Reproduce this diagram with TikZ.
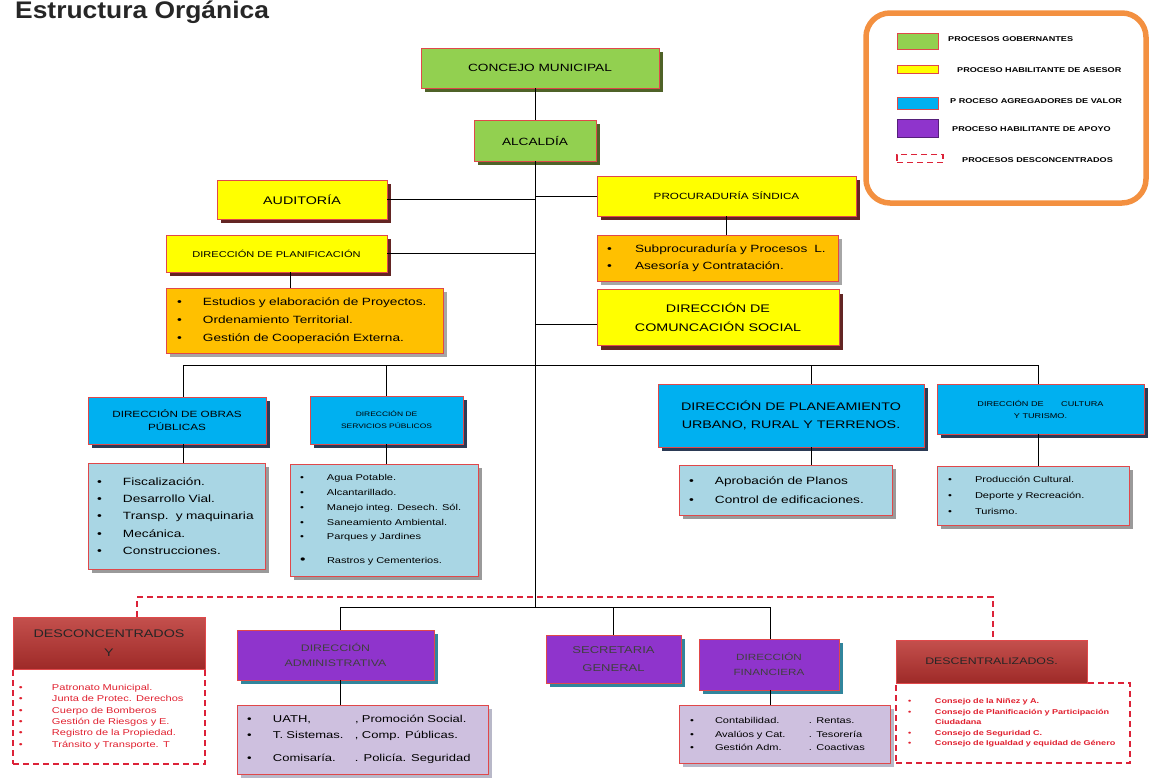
\documentclass[tikz,border=0pt]{standalone}
\usepackage{fontspec}
\setmainfont{Liberation Sans}[FakeStretch=1.3]
\newfontfamily\titlefont{Liberation Sans}[FakeStretch=1.1]
\usetikzlibrary{shadows}
\definecolor{gfill}{HTML}{92D050}
\definecolor{gshad}{HTML}{4F6228}
\definecolor{yfill}{HTML}{FFFF00}
\definecolor{yshad}{HTML}{632523}
\definecolor{ofill}{HTML}{FFC000}
\definecolor{oshad}{HTML}{A6A6A6}
\definecolor{bfill}{HTML}{00B0F0}
\definecolor{bshad}{HTML}{2B3A55}
\definecolor{lbfill}{HTML}{A9D6E4}
\definecolor{lbshad}{HTML}{9A9A9A}
\definecolor{pfill}{HTML}{8F34CC}
\definecolor{pshad}{HTML}{31859C}
\definecolor{lpfill}{HTML}{CEC0DF}
\definecolor{lpshad}{HTML}{B8B8C8}
\definecolor{bordred}{HTML}{E0484A}
\definecolor{dashred}{HTML}{DC2238}
\definecolor{txtred}{HTML}{E0202F}
\definecolor{legor}{HTML}{F39040}
\definecolor{rtop}{HTML}{C4504D}
\definecolor{rmid}{HTML}{DE8F8D}
\definecolor{rbot}{HTML}{9E2A28}
\definecolor{titlegray}{HTML}{262626}
\newcommand{\bitem}[2][26pt]{\mbox{\makebox[#1][l]{\textbullet}#2}}
\newcommand{\bcol}[4]{\mbox{\makebox[#1][l]{\textbullet}\makebox[#2][l]{#3}#4}}
\begin{document}
\begin{tikzpicture}[x=1pt,y=-1pt,
  box/.style={draw=bordred, line width=0.9pt, align=center, inner sep=2pt},
  shad/.style={drop shadow={shadow xshift=4pt,shadow yshift=-4pt,fill=#1,opacity=1}},
  gbox/.style={box, fill=gfill, shad=gshad},
  ybox/.style={box, fill=yfill, shad=yshad},
  obox/.style={box, fill=ofill, shad=oshad},
  bbox/.style={box, fill=bfill, shad=bshad},
  lbbox/.style={box, fill=lbfill, shad=lbshad},
  pbox/.style={box, fill=pfill, shad=pshad, text=black!75},
  lpbox/.style={box, fill=lpfill, shad=lpshad},
  rbox/.style={box, top color=rtop, middle color=rmid, bottom color=rbot, text=black!85},
  dbox/.style={draw=dashred, line width=1.2pt, dash pattern=on 6pt off 4pt},
  conn/.style={draw=black, line width=1pt},
  dconn/.style={draw=dashred, line width=1.2pt, dash pattern=on 6pt off 4pt},
  legtxt/.style={anchor=west, inner sep=0pt, font=\bfseries\fontsize{7}{8}\selectfont},
  legsw/.style={draw=bordred, line width=0.8pt, minimum width=41pt, inner sep=0pt}
]
\useasboundingbox (0,0) rectangle (1152,777);

% title
\node[anchor=base west, inner sep=0pt, text=titlegray, font=\titlefont\bfseries\fontsize{24}{26}\selectfont] (title) at (15,18) {Estructura Orgánica};

% legend
\node[draw=legor, line width=5.5pt, rounded corners=24pt, minimum width=280pt, minimum height=190pt] (legend) at (1006,108) {};
\node[legsw, fill=gfill, minimum height=16pt] (lg1) at (917.5,41) {};
\node[legtxt] (lt1) at (948,39) {PROCESOS GOBERNANTES};
\node[legsw, fill=yfill, minimum height=8pt] (lg2) at (917.5,69) {};
\node[legtxt] (lt2) at (957,70) {PROCESO HABILITANTE DE ASESOR};
\node[legsw, fill=bfill, minimum height=12pt] (lg3) at (917.5,103) {};
\node[legtxt] (lt3) at (950,101) {P ROCESO AGREGADORES DE VALOR};
\node[legsw, fill=pfill, draw=pfill!60!black, minimum height=18pt] (lg4) at (917.5,128) {};
\node[legtxt] (lt4) at (952,129) {PROCESO HABILITANTE DE APOYO};
\node[dbox, minimum width=46pt, minimum height=8pt, inner sep=0pt] (lg5) at (920,158.5) {};
\node[legtxt] (lt5) at (962,160) {PROCESOS DESCONCENTRADOS};

% top level
\node[gbox, minimum width=238pt, minimum height=40pt, font=\fontsize{10.5}{12}\selectfont] (concejo) at (540,68) {CONCEJO MUNICIPAL};
\node[gbox, minimum width=122pt, minimum height=41pt, font=\fontsize{10.5}{12}\selectfont] (alcaldia) at (535,140.5) {ALCALDÍA};

% advisory
\node[ybox, minimum width=170pt, minimum height=39pt, font=\fontsize{11}{13}\selectfont] (auditoria) at (302,199.5) {AUDITORÍA};
\node[ybox, minimum width=259pt, minimum height=40pt, font=\fontsize{9}{11}\selectfont] (procur) at (726.5,196) {PROCURADURÍA SÍNDICA};
\node[ybox, minimum width=221pt, minimum height=37pt, font=\fontsize{8.5}{10}\selectfont] (dplan) at (276.5,253.5) {DIRECCIÓN DE PLANIFICACIÓN};
\node[obox, minimum width=277pt, minimum height=65pt, inner xsep=11pt, text width=255pt, align=left, font=\fontsize{10.5}{18}\selectfont] (plist) at (304.5,320.5)
  {\bitem{Estudios y elaboración de Proyectos.}\\\bitem{Ordenamiento Territorial.}\\\bitem{Gestión de Cooperación Externa.}};
\node[obox, minimum width=241pt, minimum height=46pt, inner xsep=10pt, text width=221pt, align=left, font=\fontsize{10.5}{17}\selectfont] (prlist) at (717.5,258)
  {\bitem[28pt]{Subprocuraduría y Procesos\ \ L.}\\\bitem[28pt]{Asesoría y Contratación.}};
\node[ybox, minimum width=242pt, minimum height=56pt, font=\fontsize{11}{19}\selectfont] (dcs) at (718,317.5) {DIRECCIÓN DE\\COMUNCACIÓN SOCIAL};

% value adding directions
\node[bbox, minimum width=178pt, minimum height=47pt, font=\fontsize{9}{13}\selectfont] (obras) at (177,420.5) {DIRECCIÓN DE OBRAS\\PÚBLICAS};
\node[bbox, minimum width=153pt, minimum height=48pt, font=\fontsize{6.5}{12}\selectfont] (servh) at (386.5,420) {DIRECCIÓN DE\\SERVICIOS PÚBLICOS};
\node[bbox, minimum width=266pt, minimum height=63pt, font=\fontsize{11}{18}\selectfont] (planh) at (791,415.5) {DIRECCIÓN DE PLANEAMIENTO\\URBANO, RURAL Y TERRENOS.};
\node[bbox, minimum width=207pt, minimum height=50pt, font=\fontsize{7}{12}\selectfont] (culth) at (1040.5,409) {DIRECCIÓN DE\hspace{2.5em}CULTURA\\Y TURISMO.};

\node[lbbox, minimum width=177pt, minimum height=106pt, inner xsep=9pt, text width=159pt, align=left, font=\fontsize{10.5}{17.3}\selectfont] (obraslist) at (176.5,516)
  {\bitem{Fiscalización.}\\\bitem{Desarrollo Vial.}\\\bitem{Transp.\ \ y maquinaria}\\\bitem{Mecánica.}\\\bitem{Construcciones.}};
\node[lbbox, minimum width=188pt, minimum height=112pt, inner xsep=10pt, text width=168pt, align=left, font=\fontsize{8.5}{14.8}\selectfont] (servlist) at (384,520)
  {\bitem[27pt]{Agua Potable.}\\\bitem[27pt]{Alcantarillado.}\\\bitem[27pt]{Manejo integ. Desech. Sól.}\\\bitem[27pt]{Saneamiento Ambiental.}\\\bitem[27pt]{Parques y Jardines}\\[9pt]\mbox{\makebox[27pt][l]{\fontsize{12}{12}\selectfont\textbullet}Rastros y Cementerios.}};
\node[lbbox, minimum width=213pt, minimum height=50pt, inner xsep=10pt, text width=193pt, align=left, font=\fontsize{10.5}{19}\selectfont] (planlist) at (785.5,490)
  {\bitem{Aprobación de Planos}\\\bitem{Control de edificaciones.}};
\node[lbbox, minimum width=192pt, minimum height=59pt, inner xsep=11pt, text width=170pt, align=left, font=\fontsize{8.5}{16}\selectfont] (cultlist) at (1033,495.5)
  {\bitem[27pt]{Producción Cultural.}\\\bitem[27pt]{Deporte y Recreación.}\\\bitem[27pt]{Turismo.}};

% deconcentrated
\node[dbox, minimum width=192pt, minimum height=95pt, inner xsep=6pt, text width=180pt, align=left, text=txtred, font=\fontsize{8.5}{11.4}\selectfont] (desclist) at (109,716.5)
  {\bitem[33pt]{Patronato Municipal.}\\\bitem[33pt]{Junta de Protec. Derechos}\\\bitem[33pt]{Cuerpo de Bomberos}\\\bitem[33pt]{Gestión de Riesgos y E.}\\\bitem[33pt]{Registro de la Propiedad.}\\\bitem[33pt]{Tránsito y Transporte. T}};
\node[rbox, minimum width=192pt, minimum height=52pt, font=\fontsize{11}{19}\selectfont] (deschead) at (109,643) {DESCONCENTRADOS\\Y};

\node[dbox, minimum width=234pt, minimum height=80pt, inner xsep=12pt, text width=210pt, align=left, text=txtred, font=\bfseries\fontsize{7}{10.5}\selectfont] (descenlist) at (1013,723)
  {\bitem[27pt]{Consejo de la Niñez y A.}\\\bitem[27pt]{Consejo de Planificación y Participación}\\\mbox{\makebox[27pt]{}Ciudadana}\\\bitem[27pt]{Consejo de Seguridad C.}\\\bitem[27pt]{Consejo de Igualdad y equidad de Género}\\[6pt]};
\node[rbox, minimum width=191pt, minimum height=43pt, font=\fontsize{9.5}{11}\selectfont] (descenh) at (991.5,661.5) {DESCENTRALIZADOS.};

% support
\node[pbox, minimum width=197pt, minimum height=50pt, font=\fontsize{9.5}{15}\selectfont] (adminh) at (335.5,655) {DIRECCIÓN\\ADMINISTRATIVA};
\node[lpbox, minimum width=251pt, minimum height=69pt, inner xsep=10pt, text width=231pt, align=left, font=\fontsize{10}{16}\selectfont] (adminlist) at (362.5,739.5)
  {\bcol{26pt}{82pt}{UATH,}{, Promoción Social.}\\\bcol{26pt}{82pt}{T. Sistemas.}{, Comp. Públicas.}\\[7pt]\bcol{26pt}{82pt}{Comisaría.}{. Policía. Seguridad}};
\node[pbox, minimum width=135pt, minimum height=48pt, font=\fontsize{10}{18}\selectfont] (secre) at (613.5,659) {SECRETARIA\\GENERAL};
\node[pbox, minimum width=140pt, minimum height=51pt, font=\fontsize{9}{15}\selectfont] (finh) at (769,664.5) {DIRECCIÓN\\FINANCIERA};
\node[lpbox, minimum width=211pt, minimum height=58pt, inner xsep=11pt, text width=189pt, align=left, font=\fontsize{8.5}{13.5}\selectfont] (finlist) at (784.5,734)
  {\bcol{25pt}{94pt}{Contabilidad.}{. Rentas.}\\\bcol{25pt}{94pt}{Avalúos y Cat.}{. Tesorería}\\\bcol{25pt}{94pt}{Gestión Adm.}{. Coactivas}};

% connector coordinates
\coordinate (trunkend) at (535,607);
\coordinate (barL) at (183,365);
\coordinate (barR) at (1038,365);
\coordinate (pc) at (811,365);
\coordinate (bbL) at (340,607);
\coordinate (bbR) at (770,607);
\coordinate (dsL) at (137,597);
\coordinate (dsR) at (993,597);

% connectors
\draw[conn] (alcaldia.north) -- (alcaldia.north |- concejo.south);
\draw[conn] (alcaldia.south) -- (trunkend);
\draw[conn] (auditoria.east) -- (auditoria.east -| trunkend);
\draw[conn] (procur.west) -- (procur.west -| trunkend);
\draw[conn] (dplan.east) -- (dplan.east -| trunkend);
\draw[conn] ([yshift=-7pt]dcs.west) -- ([yshift=-7pt]dcs.west -| trunkend);
\draw[conn] ([xshift=13.5pt]dplan.south) -- ([xshift=13.5pt]dplan.south |- plist.north);
\draw[conn] (procur.south) -- (procur.south |- prlist.north);
\draw[conn] (barL) -- (barR);
\draw[conn] (barL) -- (barL |- obras.north);
\draw[conn] (barL |- obras.south) -- (barL |- obraslist.north);
\draw[conn] (servh.north |- barL) -- (servh.north);
\draw[conn] (servh.south) -- (servh.south |- servlist.north);
\draw[conn] (pc) -- (pc |- planh.north);
\draw[conn] (pc |- planh.south) -- (pc |- planlist.north);
\draw[conn] (barR) -- (barR |- culth.north);
\draw[conn] (barR |- culth.south) -- (barR |- cultlist.north);
\draw[conn] (bbL) -- (bbR);
\draw[conn] (bbL) -- (bbL |- adminh.north);
\draw[conn] (bbL |- adminh.south) -- (bbL |- adminlist.north);
\draw[conn] (secre.north |- bbL) -- (secre.north);
\draw[conn] (bbR) -- (bbR |- finh.north);
\draw[conn] (bbR |- finh.south) -- (bbR |- finlist.north);
\draw[dconn] (dsL |- deschead.north) -- (dsL) -- (dsR) -- (dsR |- descenh.north);
\end{tikzpicture}
\end{document}
